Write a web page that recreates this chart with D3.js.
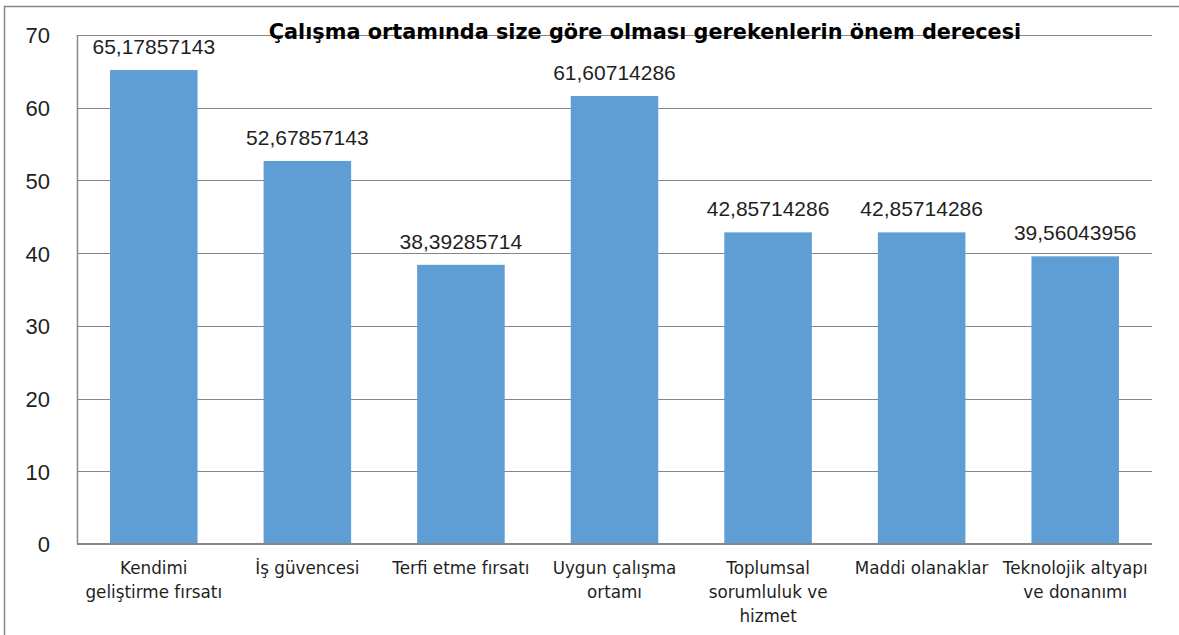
<!DOCTYPE html>
<html>
<head>
<meta charset="utf-8">
<script src="https://cdn.jsdelivr.net/npm/d3@7/dist/d3.min.js"></script>
<style>
  html, body { margin: 0; padding: 0; background: #ffffff; }
  svg { display: block; }
</style>
</head>
<body>
<svg id="chart" width="1179" height="635"></svg>
<script>
const title = "Çalışma ortamında size göre olması gerekenlerin önem derecesi";
const categories = [
  "Kendimi\ngeliştirme fırsatı",
  "İş güvencesi",
  "Terfi etme fırsatı",
  "Uygun çalışma\nortamı",
  "Toplumsal\nsorumluluk ve\nhizmet",
  "Maddi olanaklar",
  "Teknolojik altyapı\nve donanımı"
];
const values = [65.17857143, 52.67857143, 38.39285714, 61.60714286, 42.85714286, 42.85714286, 39.56043956];
const valueLabels = ["65,17857143", "52,67857143", "38,39285714", "61,60714286", "42,85714286", "42,85714286", "39,56043956"];
const yTicks = [0, 10, 20, 30, 40, 50, 60, 70];

const svg = d3.select("#chart");
const W = 1179, H = 635;
const margin = { left: 77, right: W - 1152, top: 35, bottom: H - 544 };

const gray = "#868686";
const textColor = "#1f1f1f";
const barColor = "#5f9ed4";

// outer border
svg.append("rect")
  .attr("x", 4.5).attr("y", 6.5)
  .attr("width", W + 10).attr("height", H + 10)
  .attr("fill", "none").attr("stroke", gray).attr("stroke-width", 1.5);

const x = d3.scaleBand()
  .domain(d3.range(categories.length))
  .range([margin.left, W - margin.right])
  .paddingInner(0.43).paddingOuter(0.215);

const y = d3.scaleLinear().domain([0, 70]).range([H - margin.bottom, margin.top]);

// gridlines
svg.append("g").selectAll("line").data(yTicks.filter(d => d > 0)).join("line")
  .attr("x1", margin.left).attr("x2", W - margin.right)
  .attr("y1", d => Math.round(y(d)) + 0.5).attr("y2", d => Math.round(y(d)) + 0.5)
  .attr("stroke", gray).attr("stroke-width", 1.2);

// y axis labels
const yAxis = d3.axisLeft(y).tickValues(yTicks).tickSize(0).tickPadding(27).tickFormat(d3.format("d"));
const gy = svg.append("g").attr("transform", `translate(${margin.left},0)`).call(yAxis);
gy.select(".domain").remove();
gy.selectAll("text")
  .attr("font-family", "'Liberation Sans', Arial, sans-serif")
  .attr("font-size", 22).attr("fill", textColor).attr("dy", "0.36em");

// left axis line
svg.append("line")
  .attr("x1", margin.left + 0.5).attr("x2", margin.left + 0.5)
  .attr("y1", y(70)).attr("y2", y(0))
  .attr("stroke", gray).attr("stroke-width", 1.5);

// bars
svg.append("g").selectAll("rect").data(values).join("rect")
  .attr("x", (d, i) => x(i)).attr("width", x.bandwidth())
  .attr("y", d => y(d)).attr("height", d => y(0) - y(d))
  .attr("fill", barColor);

// bottom axis line
svg.append("line")
  .attr("x1", margin.left).attr("x2", W - margin.right)
  .attr("y1", y(0)).attr("y2", y(0))
  .attr("stroke", gray).attr("stroke-width", 2);

// value labels
svg.append("g").selectAll("text").data(values).join("text")
  .attr("x", (d, i) => x(i) + x.bandwidth() / 2)
  .attr("y", d => y(d) - 16)
  .attr("text-anchor", "middle")
  .attr("font-family", "'Liberation Sans', Arial, sans-serif")
  .attr("font-size", 21).attr("fill", textColor)
  .text((d, i) => valueLabels[i]);

// category labels
svg.append("g").selectAll("text").data(categories).join("text")
  .attr("text-anchor", "middle")
  .attr("font-family", "'DejaVu Sans', sans-serif")
  .attr("font-size", 16.8).attr("fill", textColor)
  .each(function (d, i) {
    const cx = x(i) + x.bandwidth() / 2;
    d3.select(this).selectAll("tspan").data(d.split("\n")).join("tspan")
      .attr("x", cx).attr("y", (t, j) => 574 + j * 24)
      .text(t => t);
  });

// title
svg.append("text")
  .attr("x", 645).attr("y", 39)
  .attr("text-anchor", "middle")
  .attr("font-family", "'DejaVu Sans', sans-serif")
  .attr("font-weight", "bold")
  .attr("font-size", 20.8).attr("fill", "#000000")
  .text(title);
</script>
</body>
</html>
